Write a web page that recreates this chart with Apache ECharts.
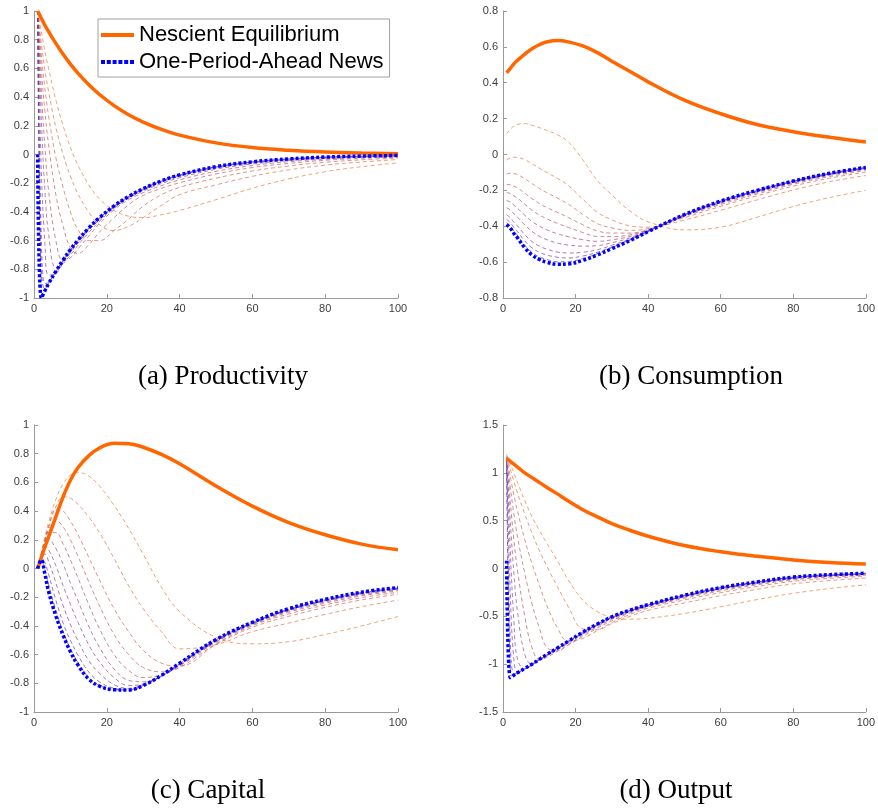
<!DOCTYPE html>
<html><head><meta charset="utf-8">
<script src="https://cdn.jsdelivr.net/npm/echarts@6/dist/echarts.min.js"></script>
<style>html,body{margin:0;padding:0;background:#fff}#c{width:878px;height:810px}</style>
</head><body><div id="c"></div>
<script>
// ---- data ----
const periods = [1,2,3,4,6,8,10,12,15,18,22,26,30,35,40,50,60,70,80,90,100];
const xTicks = [0,20,40,60,80,100];
const legendNames = ['Nescient Equilibrium','One-Period-Ahead News'];
const captions = ['(a) Productivity','(b) Consumption','(c) Capital','(d) Output'];

const prodTicks = [-1,-0.8,-0.6,-0.4,-0.2,0,0.2,0.4,0.6,0.8,1];
const prodNescient = [1,0.95,0.9,0.857,0.774,0.698,0.63,0.569,0.488,0.418,0.341,0.277,0.226,0.175,0.135,0.081,0.048,0.029,0.017,0.01,0.006];
const prodNews = [0,-1,-0.95,-0.9,-0.815,-0.735,-0.663,-0.599,-0.513,-0.44,-0.358,-0.292,-0.238,-0.184,-0.142,-0.085,-0.051,-0.031,-0.018,-0.011,-0.007];
const prodPaths = [
 [1,0.86,0.72,0.6,0.38,0.2,0.05,-0.07,-0.21,-0.31,-0.39,-0.43,-0.44,-0.42,-0.39,-0.315,-0.235,-0.17,-0.12,-0.085,-0.058],
 [1,0.78,0.59,0.44,0.19,0.0,-0.15,-0.27,-0.4,-0.49,-0.53,-0.5,-0.44,-0.355,-0.28,-0.212,-0.152,-0.107,-0.074,-0.052,-0.035],
 [1,0.7,0.46,0.27,-0.02,-0.23,-0.4,-0.52,-0.6,-0.6,-0.53,-0.45,-0.36,-0.28,-0.229,-0.165,-0.115,-0.08,-0.054,-0.037,-0.025],
 [1,0.6,0.3,0.07,-0.28,-0.5,-0.65,-0.69,-0.63,-0.54,-0.44,-0.35,-0.285,-0.236,-0.197,-0.136,-0.091,-0.062,-0.04,-0.027,-0.018],
 [1,0.45,0.05,-0.25,-0.6,-0.74,-0.72,-0.66,-0.57,-0.48,-0.385,-0.315,-0.266,-0.217,-0.177,-0.117,-0.077,-0.05,-0.032,-0.021,-0.014],
 [1,0.25,-0.25,-0.55,-0.79,-0.76,-0.7,-0.635,-0.545,-0.465,-0.375,-0.305,-0.255,-0.203,-0.162,-0.103,-0.066,-0.042,-0.026,-0.017,-0.011],
 [1,-0.1,-0.62,-0.84,-0.83,-0.755,-0.685,-0.62,-0.53,-0.455,-0.368,-0.3,-0.247,-0.192,-0.151,-0.094,-0.058,-0.036,-0.022,-0.014,-0.009],
 [1,-0.55,-0.9,-0.89,-0.82,-0.745,-0.672,-0.607,-0.52,-0.446,-0.362,-0.295,-0.242,-0.187,-0.145,-0.088,-0.054,-0.033,-0.02,-0.012,-0.008],
 [1,-0.8,-0.94,-0.895,-0.817,-0.74,-0.667,-0.602,-0.516,-0.442,-0.36,-0.293,-0.24,-0.185,-0.143,-0.086,-0.052,-0.032,-0.019,-0.012,-0.007],
 [1,-0.93,-0.948,-0.9,-0.816,-0.737,-0.665,-0.6,-0.514,-0.441,-0.359,-0.292,-0.239,-0.184,-0.142,-0.085,-0.051,-0.031,-0.018,-0.011,-0.007]
];

const consTicks = [-0.8,-0.6,-0.4,-0.2,0,0.2,0.4,0.6,0.8];
const consNescient = [0.455,0.48,0.505,0.525,0.56,0.59,0.612,0.627,0.635,0.628,0.605,0.568,0.52,0.463,0.405,0.303,0.227,0.167,0.127,0.096,0.07];
const consNews = [-0.39,-0.41,-0.44,-0.465,-0.52,-0.56,-0.585,-0.6,-0.612,-0.61,-0.59,-0.56,-0.525,-0.48,-0.43,-0.335,-0.26,-0.2,-0.148,-0.105,-0.072];
const consPaths = [
 [0.115,0.14,0.158,0.168,0.172,0.163,0.15,0.135,0.11,0.07,-0.03,-0.145,-0.225,-0.315,-0.375,-0.42,-0.405,-0.35,-0.29,-0.24,-0.2],
 [-0.031,-0.019,-0.015,-0.016,-0.029,-0.052,-0.076,-0.1,-0.133,-0.173,-0.249,-0.322,-0.364,-0.398,-0.405,-0.365,-0.311,-0.253,-0.198,-0.152,-0.117],
 [-0.109,-0.104,-0.107,-0.112,-0.135,-0.162,-0.189,-0.212,-0.243,-0.277,-0.334,-0.385,-0.409,-0.423,-0.413,-0.352,-0.289,-0.23,-0.176,-0.132,-0.098],
 [-0.168,-0.168,-0.177,-0.186,-0.216,-0.246,-0.273,-0.295,-0.323,-0.351,-0.392,-0.426,-0.438,-0.438,-0.418,-0.346,-0.279,-0.22,-0.166,-0.123,-0.089],
 [-0.213,-0.217,-0.231,-0.243,-0.278,-0.311,-0.337,-0.358,-0.384,-0.406,-0.435,-0.457,-0.458,-0.448,-0.421,-0.342,-0.272,-0.213,-0.16,-0.116,-0.083],
 [-0.257,-0.265,-0.283,-0.299,-0.338,-0.373,-0.399,-0.419,-0.442,-0.458,-0.475,-0.484,-0.476,-0.457,-0.424,-0.34,-0.268,-0.208,-0.156,-0.112,-0.079],
 [-0.297,-0.309,-0.33,-0.349,-0.393,-0.429,-0.456,-0.474,-0.494,-0.505,-0.511,-0.508,-0.492,-0.465,-0.426,-0.338,-0.264,-0.205,-0.152,-0.109,-0.076],
 [-0.336,-0.352,-0.377,-0.398,-0.447,-0.485,-0.511,-0.527,-0.544,-0.549,-0.545,-0.531,-0.506,-0.472,-0.428,-0.336,-0.262,-0.202,-0.15,-0.107,-0.074],
 [-0.362,-0.38,-0.407,-0.43,-0.482,-0.52,-0.545,-0.56,-0.573,-0.577,-0.566,-0.545,-0.515,-0.476,-0.429,-0.336,-0.261,-0.201,-0.149,-0.106,-0.073],
 [-0.38,-0.399,-0.428,-0.452,-0.506,-0.546,-0.57,-0.585,-0.598,-0.597,-0.58,-0.553,-0.52,-0.477,-0.429,-0.335,-0.26,-0.2,-0.148,-0.105,-0.072]
];

const capTicks = [-1,-0.8,-0.6,-0.4,-0.2,0,0.2,0.4,0.6,0.8,1];
const capNescient = [0,0.075,0.15,0.22,0.36,0.5,0.615,0.7,0.785,0.84,0.872,0.87,0.845,0.795,0.73,0.575,0.435,0.32,0.235,0.17,0.13];
const capNews = [0,0.06,-0.04,-0.16,-0.33,-0.465,-0.58,-0.67,-0.77,-0.82,-0.845,-0.847,-0.815,-0.745,-0.66,-0.495,-0.375,-0.28,-0.215,-0.165,-0.133];
const capPaths = [
 [0,0.11,0.22,0.32,0.48,0.59,0.65,0.67,0.645,0.575,0.44,0.28,0.1,-0.13,-0.3,-0.48,-0.525,-0.51,-0.46,-0.4,-0.335],
 [0,0.1,0.2,0.29,0.43,0.5,0.49,0.45,0.36,0.25,0.07,-0.12,-0.28,-0.44,-0.56,-0.53,-0.44,-0.38,-0.32,-0.266,-0.22],
 [0,0.1,0.2,0.29,0.41,0.4,0.33,0.24,0.08,-0.08,-0.28,-0.44,-0.57,-0.66,-0.68,-0.53,-0.41,-0.333,-0.271,-0.219,-0.179],
 [0,0.1,0.19,0.27,0.335,0.29,0.2,0.09,-0.09,-0.26,-0.46,-0.6,-0.69,-0.72,-0.69,-0.525,-0.399,-0.317,-0.254,-0.203,-0.165],
 [0,0.1,0.18,0.25,0.25,0.17,0.06,-0.06,-0.25,-0.42,-0.6,-0.71,-0.76,-0.74,-0.68,-0.515,-0.392,-0.305,-0.242,-0.191,-0.155],
 [0,0.09,0.17,0.2,0.14,0.03,-0.1,-0.22,-0.4,-0.55,-0.7,-0.78,-0.79,-0.75,-0.675,-0.51,-0.386,-0.297,-0.233,-0.183,-0.148],
 [0,0.09,0.15,0.13,0.02,-0.12,-0.25,-0.37,-0.53,-0.65,-0.76,-0.815,-0.805,-0.75,-0.67,-0.505,-0.383,-0.292,-0.227,-0.177,-0.143],
 [0,0.08,0.1,0.05,-0.1,-0.26,-0.39,-0.5,-0.64,-0.73,-0.81,-0.835,-0.81,-0.75,-0.667,-0.5,-0.38,-0.288,-0.224,-0.173,-0.14],
 [0,0.07,0.04,-0.04,-0.22,-0.38,-0.5,-0.6,-0.72,-0.79,-0.835,-0.845,-0.815,-0.748,-0.664,-0.498,-0.378,-0.285,-0.22,-0.17,-0.137],
 [0,0.065,-0.01,-0.11,-0.29,-0.44,-0.56,-0.65,-0.76,-0.815,-0.845,-0.847,-0.816,-0.747,-0.662,-0.496,-0.376,-0.282,-0.217,-0.167,-0.135]
];

const outTicks = [-1.5,-1,-0.5,0,0.5,1,1.5];
const outNescient = [1.15,1.12,1.09,1.06,1.0,0.95,0.9,0.85,0.78,0.705,0.615,0.54,0.47,0.4,0.337,0.24,0.175,0.127,0.09,0.063,0.046];
const outNews = [0.08,-1.14,-1.115,-1.09,-1.045,-1.0,-0.95,-0.9,-0.83,-0.76,-0.665,-0.58,-0.505,-0.435,-0.378,-0.28,-0.2,-0.14,-0.09,-0.065,-0.05];
const outPaths = [
 [1.19,1.1,1.0,0.9,0.71,0.54,0.4,0.27,0.08,-0.12,-0.33,-0.45,-0.51,-0.53,-0.52,-0.47,-0.4,-0.325,-0.26,-0.21,-0.17],
 [1.18,1.04,0.91,0.79,0.57,0.37,0.19,0.03,-0.19,-0.4,-0.63,-0.64,-0.575,-0.5,-0.438,-0.36,-0.284,-0.218,-0.161,-0.126,-0.1],
 [1.17,0.96,0.77,0.6,0.3,0.05,-0.17,-0.38,-0.62,-0.76,-0.73,-0.65,-0.565,-0.48,-0.415,-0.329,-0.252,-0.188,-0.134,-0.103,-0.081],
 [1.16,0.85,0.57,0.33,-0.05,-0.37,-0.62,-0.82,-0.86,-0.8,-0.71,-0.625,-0.545,-0.465,-0.402,-0.312,-0.234,-0.171,-0.119,-0.09,-0.07],
 [1.15,0.7,0.3,-0.02,-0.5,-0.83,-0.95,-0.93,-0.865,-0.795,-0.695,-0.61,-0.53,-0.455,-0.394,-0.301,-0.222,-0.16,-0.109,-0.081,-0.063],
 [1.14,0.5,-0.05,-0.45,-0.9,-1.0,-0.96,-0.915,-0.85,-0.78,-0.683,-0.598,-0.52,-0.447,-0.388,-0.293,-0.214,-0.153,-0.102,-0.075,-0.058],
 [1.13,0.2,-0.55,-0.95,-1.05,-1.008,-0.958,-0.908,-0.84,-0.77,-0.675,-0.59,-0.513,-0.442,-0.384,-0.289,-0.209,-0.148,-0.098,-0.072,-0.055],
 [1.12,-0.25,-0.95,-1.08,-1.05,-1.004,-0.955,-0.905,-0.836,-0.766,-0.67,-0.585,-0.51,-0.439,-0.381,-0.285,-0.205,-0.145,-0.094,-0.069,-0.053],
 [1.1,-0.75,-1.1,-1.093,-1.048,-1.002,-0.952,-0.902,-0.832,-0.762,-0.667,-0.582,-0.507,-0.437,-0.38,-0.282,-0.202,-0.142,-0.092,-0.067,-0.051],
 [1.08,-1.05,-1.11,-1.091,-1.046,-1.001,-0.951,-0.901,-0.831,-0.761,-0.666,-0.581,-0.506,-0.436,-0.379,-0.281,-0.201,-0.141,-0.091,-0.066,-0.05]
];

// ---- styles / layout ----
const dashColors = ['#f07a3c','#e2704a','#d26656','#c25d62','#b0546e','#9e4c7c','#8c468a','#7a4098','#683ca8','#5638ba'];
const panels = [
  {grid:{left:34,top:11,width:364,height:287}, ticks:prodTicks, nes:prodNescient, news:prodNews, paths:prodPaths, cap:{x:223,y:377}},
  {grid:{left:503,top:11,width:363,height:287}, ticks:consTicks, nes:consNescient, news:consNews, paths:consPaths, cap:{x:691,y:377}},
  {grid:{left:34,top:425,width:364,height:287}, ticks:capTicks, nes:capNescient, news:capNews, paths:capPaths, cap:{x:208,y:791}},
  {grid:{left:503,top:425,width:363,height:287}, ticks:outTicks, nes:outNescient, news:outNews, paths:outPaths, cap:{x:676,y:791}}
];
const axisColor = '#9a9a9a';
const labelStyle = {color:'#3c3c3c', fontSize:11, fontFamily:'Liberation Sans, Arial, sans-serif'};
function pairs(ys){ return periods.map((x,i)=>[x, ys[i]]); }

const grids=[], xAxes=[], yAxes=[], series=[], graphics=[];
panels.forEach((p,i)=>{
  grids.push(Object.assign({containLabel:false}, p.grid));
  xAxes.push({type:'value', gridIndex:i, min:xTicks[0], max:xTicks[xTicks.length-1], interval:xTicks[1]-xTicks[0],
    axisLine:{show:true, onZero:false, lineStyle:{color:axisColor, width:1}},
    axisTick:{show:true, inside:true, length:4, lineStyle:{color:axisColor}},
    axisLabel:Object.assign({margin:5}, labelStyle), splitLine:{show:false}});
  const t = p.ticks;
  yAxes.push({type:'value', gridIndex:i, min:t[0], max:t[t.length-1], interval:+(t[1]-t[0]).toFixed(3),
    axisLine:{show:true, onZero:false, lineStyle:{color:axisColor, width:1}},
    axisTick:{show:true, inside:true, length:4, lineStyle:{color:axisColor}},
    axisLabel:Object.assign({margin:5}, labelStyle), splitLine:{show:false}});
  p.paths.forEach((ys,k)=>{
    series.push({type:'line', name:'path'+i+'_'+k, xAxisIndex:i, yAxisIndex:i, data:pairs(ys),
      symbol:'none', smooth:0.4, silent:true, z:2,
      lineStyle:{color:dashColors[k], width:1, type:[4,3], opacity:0.7}});
  });
  series.push({type:'line', name:legendNames[0], xAxisIndex:i, yAxisIndex:i, data:pairs(p.nes),
    symbol:'none', smooth:0.4, silent:true, z:3, itemStyle:{color:'#ff6600'},
    lineStyle:{color:'#ff6600', width:3.5}});
  series.push({type:'line', name:legendNames[1], xAxisIndex:i, yAxisIndex:i, data:pairs(p.news),
    symbol:'none', smooth:0.4, silent:true, z:4, itemStyle:{color:'#0000ff'},
    lineStyle:{color:'#0000ff', width:3.5, type:[3,2.2]}});
  graphics.push({type:'text', x:p.cap.x, y:p.cap.y, silent:true,
    style:{text:captions[i], fill:'#000', font:'27px "Liberation Serif", "Times New Roman", serif', textAlign:'center', textVerticalAlign:'middle'}});
});

const solidIcon = 'path://M0,0H33V4H0Z';
const dottedIcon = 'path://M0,0h4v4h-4zM5.8,0h4v4h-4zM11.6,0h4v4h-4zM17.4,0h4v4h-4zM23.2,0h4v4h-4zM29,0h4v4h-4z';

const chart = echarts.init(document.getElementById('c'), null, {renderer:'canvas'});
chart.setOption({
  animation:false,
  backgroundColor:'#fff',
  grid:grids, xAxis:xAxes, yAxis:yAxes, series:series, graphic:graphics,
  legend:{data:[{name:legendNames[0], icon:solidIcon},{name:legendNames[1], icon:dottedIcon}],
    orient:'vertical', left:98, top:19, itemWidth:33, itemHeight:4, itemGap:5,
    padding:[5,6,4,3], borderColor:'#a0a0a0', borderWidth:1, backgroundColor:'#fff', selectedMode:false, z:10,
    itemStyle:{borderWidth:0},
    textStyle:{fontSize:22, color:'#000', fontFamily:'Liberation Sans, Arial, sans-serif'}}
});
</script></body></html>
